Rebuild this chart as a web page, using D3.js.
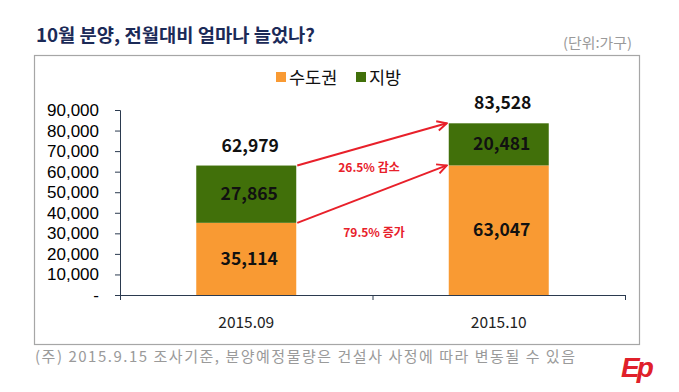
<!DOCTYPE html>
<html><head><meta charset="utf-8">
<script src="https://cdn.jsdelivr.net/npm/d3@7"></script>
<style>
html,body{margin:0;padding:0;background:#fff;}
svg{display:block;}
</style></head>
<body>
<svg id="c" width="679" height="392"></svg>
<script>
const categories = ["2015.09", "2015.10"];
const seriesNames = ["수도권", "지방"];
const capital = [35114, 63047];
const regional = [27865, 20481];
const totals = [62979, 83528];
const yTicks = [0, 10000, 20000, 30000, 40000, 50000, 60000, 70000, 80000, 90000];
const changeLabels = ["26.5% 감소", "79.5% 증가"];
const colors = ["#f99a33", "#41700a"];

const svg = d3.select("#c");
const KR = "'Noto Sans CJK KR','Noto Sans',sans-serif";
const AR = "'Liberation Sans',Arial,sans-serif";

// title + unit
svg.append("text").attr("x", 36).attr("y", 42).text("10월 분양, 전월대비 얼마나 늘었나?")
  .attr("font-family", KR).attr("font-weight", 700).attr("font-size", 18).attr("fill", "#1b2a57")
  .attr("textLength", 279).attr("lengthAdjust", "spacingAndGlyphs");
svg.append("text").attr("x", 563).attr("y", 48).text("(단위:가구)")
  .attr("font-family", KR).attr("font-size", 14).attr("fill", "#9a9a9a")
  .attr("textLength", 69).attr("lengthAdjust", "spacingAndGlyphs");

// frame
svg.append("rect").attr("x", 34.5).attr("y", 55.5).attr("width", 605).attr("height", 289)
  .attr("fill", "none").attr("stroke", "#a6a6a6").attr("stroke-width", 1.2);

// footnote
svg.append("text").attr("x", 35).attr("y", 362).text("(주) 2015.9.15 조사기준, 분양예정물량은 건설사 사정에 따라 변동될 수 있음")
  .attr("font-family", KR).attr("font-size", 15).attr("fill", "#9a9a9a")
  .attr("textLength", 540).attr("lengthAdjust", "spacing");
// logo
svg.append("text").attr("x", 636).attr("y", 377).attr("text-anchor", "middle").text("Ep")
  .attr("font-family", AR).attr("font-weight", 700).attr("font-style", "italic").attr("font-size", 28)
  .attr("fill", "#e0202a").attr("letter-spacing", -3);

// scales
const x = d3.scaleBand().domain(categories).range([120, 625]).paddingInner(0).paddingOuter(0);
const y = d3.scaleLinear().domain([0, 90000]).range([295, 110]);
const bw = 100;

// legend
const lg = svg.append("g").attr("font-family", KR).attr("font-size", 17.5).attr("fill", "#111");
const legendX = [276, 356];
seriesNames.forEach((n, i) => {
  lg.append("rect").attr("x", legendX[i]).attr("y", 72).attr("width", 10).attr("height", 10).attr("fill", colors[i]);
  lg.append("text").attr("x", legendX[i] + 13).attr("y", 84).text(n);
});

// y axis
const yAxis = d3.axisLeft(y).tickValues(yTicks).tickSize(5).tickPadding(16)
  .tickFormat(d => d === 0 ? "-" : d3.format(",")(d));
const ga = svg.append("g").attr("transform", "translate(120,0)").call(yAxis);
ga.select(".domain").attr("stroke", "#2b3a4f").attr("d", "M-5,110.5H0.5V295.5");
ga.selectAll(".tick line").attr("stroke", "#2b3a4f");
ga.selectAll(".tick text").attr("font-family", AR).attr("font-size", 17).attr("fill", "#000");

// x axis
const xAxis = d3.axisBottom(x).tickSize(0).tickPadding(22);
const gx = svg.append("g").attr("transform", "translate(0,295)").call(xAxis);
gx.select(".domain").attr("stroke", "#2b3a4f").attr("d", "M115,0.5H625.5");
gx.selectAll(".tick text").attr("font-family", KR).attr("font-size", 15.5).attr("fill", "#222");
// category boundary ticks
const bounds = [x.range()[0], x(categories[1]), x.range()[1]];
gx.selectAll("line.bt").data(bounds).join("line").attr("class", "bt")
  .attr("x1", d => d + 0.5).attr("x2", d => d + 0.5).attr("y1", 0).attr("y2", 5).attr("stroke", "#2b3a4f");

// bars
const stackData = categories.map((c, i) => ({ cat: c, s0: capital[i], s1: regional[i] }));
const stack = d3.stack().keys(["s0", "s1"])(stackData);
const gb = svg.append("g");
stack.forEach((layer, li) => {
  gb.selectAll(null).data(layer).join("rect")
    .attr("x", d => x(d.data.cat) + (x.bandwidth() - bw) / 2)
    .attr("width", bw)
    .attr("y", d => y(d[1]))
    .attr("height", d => y(d[0]) - y(d[1]))
    .attr("fill", colors[li]);
  gb.selectAll(null).data(layer).join("text")
    .attr("x", d => x(d.data.cat) + x.bandwidth() / 2 + 3)
    .attr("y", d => (y(d[0]) + y(d[1])) / 2 + 6)
    .attr("text-anchor", "middle")
    .attr("font-family", KR).attr("font-weight", 700).attr("font-size", 17.5).attr("fill", "#111")
    .text(d => d3.format(",")(d[1] - d[0]));
});
// totals
svg.selectAll("text.tot").data(categories).join("text").attr("class", "tot")
  .attr("x", (c) => x(c) + x.bandwidth() / 2 + 4)
  .attr("y", (c, i) => y(totals[i]) - 14)
  .attr("text-anchor", "middle")
  .attr("font-family", KR).attr("font-weight", 700).attr("font-size", 17.5).attr("fill", "#111")
  .text((c, i) => d3.format(",")(totals[i]));

// arrows
const defs = svg.append("defs");
defs.append("marker").attr("id", "ah").attr("viewBox", "0 0 10 10").attr("refX", 9).attr("refY", 5)
  .attr("markerWidth", 6).attr("markerHeight", 6).attr("orient", "auto")
  .append("path").attr("d", "M1,1 L9,5 L1,9").attr("fill", "none").attr("stroke", "#e8202a").attr("stroke-width", 1.6);
const red = "#e8202a";
const x0r = x(categories[0]) + (x.bandwidth() + bw) / 2 + 1;
const x1l = x(categories[1]) + (x.bandwidth() - bw) / 2 - 2;
const arrows = [
  { from: totals[0], to: totals[1] },
  { from: capital[0], to: capital[1] }
];
svg.selectAll("line.arr").data(arrows).join("line").attr("class", "arr")
  .attr("x1", x0r).attr("y1", d => y(d.from))
  .attr("x2", x1l).attr("y2", d => y(d.to))
  .attr("stroke", red).attr("stroke-width", 2).attr("marker-end", "url(#ah)");
svg.selectAll("text.chg").data(changeLabels).join("text").attr("class", "chg")
  .attr("x", (d, i) => i === 0 ? 369 : 374)
  .attr("y", (d, i) => i === 0 ? 172 : 237)
  .attr("text-anchor", "middle")
  .attr("font-family", KR).attr("font-weight", 700).attr("font-size", 12).attr("fill", red)
  .text(d => d);
</script>
</body></html>
